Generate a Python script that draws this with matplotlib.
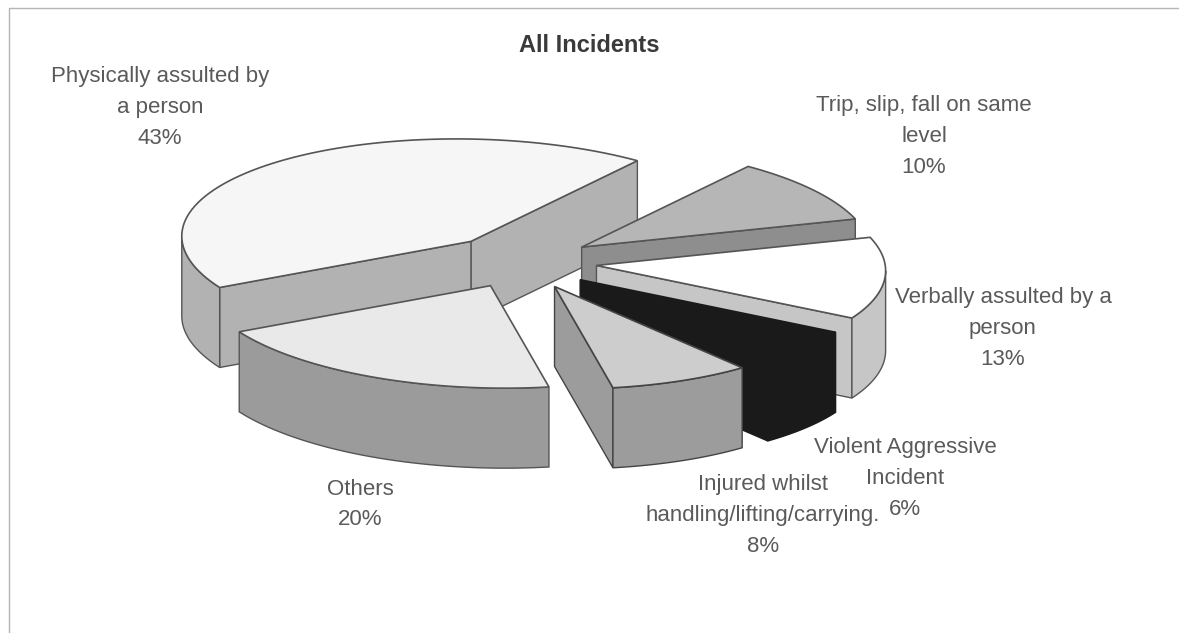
import numpy as np
import matplotlib
matplotlib.use('Agg')
import matplotlib.pyplot as plt
from matplotlib.patches import Polygon

plt.rcParams['font.family'] = ['Liberation Sans', 'DejaVu Sans']

# Slices in counter-clockwise order
categories = ['Physically assulted by\na person', 'Others',
              'Injured whilst\nhandling/lifting/carrying.',
              'Violent Aggressive\nIncident', 'Verbally assulted by a\nperson',
              'Trip, slip, fall on same\nlevel']
shares = [43, 20, 8, 6, 13, 10]
top_colors = ['#f6f6f6', '#e9e9e9', '#cdcdcd', '#1a1a1a', '#ffffff', '#b6b6b6']
side_colors = ['#b2b2b2', '#9b9b9b', '#9c9c9c', '#1a1a1a', '#c6c6c6', '#8e8e8e']
edge_colors = ['#555555', '#555555', '#444444', '#1a1a1a', '#555555', '#555555']
label_x = [160, 360, 763, 905, 1003, 924]
label_y = [106, 503, 514, 477, 327, 135]

start_angle = 49.7
center_x, center_y = 521.5, 262
explode = 0.26
depth = 80
line_gap = 30.8


def project(px, py):
    # Tilted ellipse, fitted to how the pie sits on the page
    return center_x + 288 * px - 26 * py, center_y - 102.4 * py - 4 * px


def wall(points, color, edge, zorder):
    points = np.array(points)
    lower = points[::-1] + [0, depth]
    ax.add_patch(Polygon(np.vstack([points, lower]), closed=True, facecolor=color,
                         edgecolor=edge, linewidth=1.0, zorder=zorder))


fig = plt.figure(figsize=(11.79, 6.33), dpi=100)
ax = fig.add_axes([0, 0, 1, 1])
ax.set_xlim(0, 1179)
ax.set_ylim(633, 0)
ax.axis('off')

# Thin frame left by the scan
ax.plot([9, 9, 1179], [633, 8, 8], color='#b5b5b5', linewidth=1.0)

edges = start_angle + np.cumsum([0] + [s * 3.6 for s in shares])
mids = np.radians((edges[:-1] + edges[1:]) / 2)
order = np.argsort(-np.sin(mids))  # back slices first

for rank, i in enumerate(order):
    ox, oy = explode * np.cos(mids[i]), explode * np.sin(mids[i])
    t = np.radians(np.linspace(edges[i], edges[i + 1], 80))
    apex = project(ox, oy)
    ax_, ay_ = project(ox + np.cos(t), oy + np.sin(t))
    arc = np.column_stack([ax_, ay_])
    z = 3 + rank * 3

    # Only faces turned towards the viewer get drawn
    if arc[0, 0] > apex[0]:
        wall([apex, arc[0]], side_colors[i], edge_colors[i], z)
    if apex[0] > arc[-1, 0]:
        wall([arc[-1], apex], side_colors[i], edge_colors[i], z)
    front = np.where(np.diff(arc[:, 0]) > 0)[0]
    if len(front):
        wall(arc[front[0]:front[-1] + 2], side_colors[i], edge_colors[i], z)

    ax.add_patch(Polygon(np.vstack([apex, arc]), closed=True, facecolor=top_colors[i],
                         edgecolor=edge_colors[i], linewidth=1.2, zorder=z + 1))

    # One text per line, the wide Injured line runs in under the 6%
    lines = categories[i].split('\n') + [f'{shares[i]}%']
    for k, line in enumerate(lines):
        y = label_y[i] + 7 + (k - (len(lines) - 1) / 2) * line_gap
        ax.text(label_x[i], y, line, ha='center', va='baseline',
                fontsize=16, color='#5a5a5a', zorder=50)

ax.text(589, 52, 'All Incidents', ha='center', va='baseline', fontsize=17,
        fontweight='bold', color='#3a3a3a')

fig.savefig('out.png', dpi=100)
